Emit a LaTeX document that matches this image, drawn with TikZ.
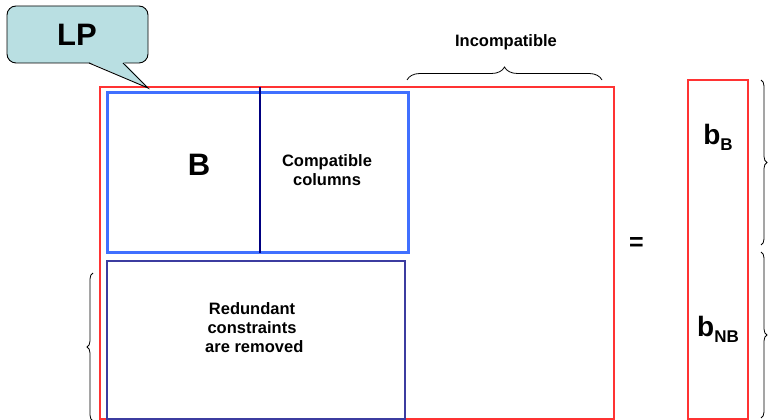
\documentclass[tikz,border=0pt]{standalone}
\usepackage{fontspec}
\setmainfont{Liberation Sans}
\usetikzlibrary{decorations.pathreplacing}
\definecolor{redline}{RGB}{255,51,51}
\definecolor{blueline}{RGB}{64,112,255}
\definecolor{navyline}{RGB}{0,0,128}
\definecolor{slateline}{RGB}{60,60,160}
\definecolor{lpfill}{RGB}{185,223,226}
\tikzset{
  lbl/.style={font=\bfseries\fontsize{16.5}{19}\selectfont, align=center, inner sep=0pt},
  big/.style={font=\bfseries\fontsize{31}{34}\selectfont, inner sep=0pt},
  bracestyle/.style={decorate, decoration={brace, amplitude=#1}, line width=0.8pt},
}
\newcommand{\bsym}[1]{{\fontsize{28}{30}\selectfont b}\raisebox{-6pt}{\fontsize{17}{18}\selectfont #1}}
\begin{document}
\begin{tikzpicture}[x=1pt,y=1pt]
\useasboundingbox (0,0) rectangle (768,420);
% main red matrix
\draw[redline, line width=1.3pt] (100,1) rectangle (614,333);
% B + compatible block
\draw[blueline, line width=3pt] (107,167) rectangle (408,327);
\coordinate (vtop) at (260,333);
\coordinate (vbot) at (260,167);
\draw[navyline, line width=2.4pt] (vtop) -- (vbot);
% redundant block
\draw[slateline, line width=2.6pt] (107,1) rectangle (405,159);
% rhs vector
\draw[redline, line width=1.3pt] (688,1) rectangle (748,340);
% callout
\draw[fill=lpfill, rounded corners=9pt, line width=0.9pt] (7,357) rectangle (148,414);
\fill[lpfill] (88.5,358.2) -- (148,332) -- (123.5,358.2) -- cycle;
\coordinate (pa) at (89,357);
\coordinate (ptip) at (148,332);
\coordinate (pb) at (123,357);
\draw[line width=0.9pt, line join=miter] (pa) -- (ptip) -- (pb);
\node[big] (lp) at (77,385) {LP};
% texts
\node[big] (bnode) at (199,255) {B};
\node[lbl] (compat) at (327,250) {Compatible\\columns};
\node[lbl] (redund) at (252,92) {Redundant\\constraints\\\ are removed};
\node[lbl] (incompat) at (506,378) {Incompatible};
\node[font=\bfseries\fontsize{25}{26}\selectfont, inner sep=0pt] (eq) at (636.5,175.5) {=};
\node[inner sep=0pt, font=\bfseries] (bb) at (718,283) {\bsym{B}};
\node[inner sep=0pt, font=\bfseries] (bnb) at (718,91) {\bsym{NB}};
% braces
\coordinate (t1) at (407,340); \coordinate (t2) at (602,340);
\draw[bracestyle=13pt] (t1) -- (t2);
\coordinate (r1) at (761,340); \coordinate (r2) at (761,175);
\draw[bracestyle=6pt] (r1) -- (r2);
\coordinate (r3) at (761,168); \coordinate (r4) at (761,2);
\draw[bracestyle=6pt] (r3) -- (r4);
\coordinate (l1) at (93,-1); \coordinate (l2) at (93,147);
\draw[bracestyle=6pt] (l1) -- (l2);
\end{tikzpicture}
\end{document}
